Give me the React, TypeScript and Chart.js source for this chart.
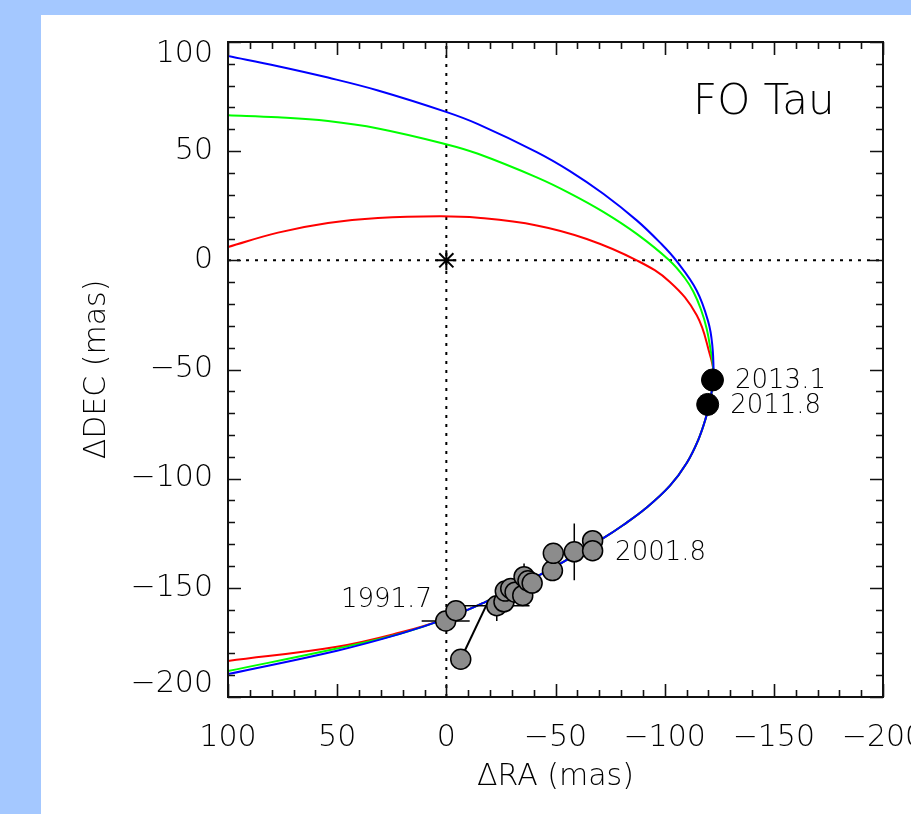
import React, { useEffect, useRef } from 'react';
import { Chart, registerables } from 'chart.js';

Chart.register(...registerables);

// ---- axis ----
const raMin = -200;
const raMax = 100;
const decMin = -200;
const decMax = 100;
const majorStep = 50;
const minorStep = 10;

// ---- orbit fits (ΔRA, ΔDEC in mas), lower-left -> vertex -> upper-left ----
const blueRA = [100, 50.08, 21.22, 0.15, -16.93, -43.05, -71.9, -81.05, -91.77, -102.44, -110.1, -115.4, -118.8, -120.76, -121.95, -122.4, -121.8, -120, -114.7, -105.5, -97.9, -87.2, -71.9, -56.6, -41.4, -14.5, 0.15, 31.3, 54.2, 77.1, 100];
const blueDEC = [-189.5, -178.8, -171.1, -164.1, -156.9, -144.0, -127.2, -121.2, -113.2, -103.2, -92.8, -82.2, -72.4, -64.3, -57.4, -51.1, -38.7, -28.3, -13.9, -0.4, 8.1, 18.3, 30.5, 40.9, 49.6, 62.4, 68.0, 77.8, 83.7, 88.9, 93.6];

const greenRA = [100, 50.08, 21.22, 0.15, -16.93, -43.05, -71.9, -81.05, -91.77, -102.44, -110.1, -115.4, -118.8, -120.76, -121.95, -122.4, -121.0, -119.25, -116.6, -113.1, -109.3, -102.1, -87.2, -71.9, -56.6, -41.4, -14.5, 0.15, 31.3, 54.2, 77.1, 100];
const greenDEC = [-188.1, -177.8, -171.0, -164.1, -156.9, -144.0, -127.2, -121.2, -113.2, -103.2, -92.8, -82.2, -72.4, -64.3, -57.4, -51.1, -40.8, -31.3, -22.4, -14.3, -8.2, 0, 12.1, 22.2, 30.7, 38.0, 48.8, 53.2, 60.4, 63.8, 65.5, 66.4];

const redRA = [100, 50.08, 21.22, 0.15, -16.93, -43.05, -71.9, -81.05, -91.77, -102.44, -110.1, -115.4, -118.8, -120.76, -121.95, -122.4, -120.8, -114.7, -102.4, -87.2, -64.3, -41.4, -14.5, 2.9, 31.3, 54.2, 77.1, 100];
const redDEC = [-183.5, -177.0, -170.5, -164.1, -156.9, -144.0, -127.2, -121.2, -113.2, -103.2, -92.8, -82.2, -72.4, -64.3, -57.4, -51.1, -43.5, -25.2, -9.9, 0, 9.8, 16.0, 19.5, 20.2, 19.4, 17.1, 12.7, 6.1];

// ---- astrometry ----
const grayRA = [0.3, -4.4, -6.6, -23.1, -26.4, -27, -29.5, -31.5, -35, -35.6, -37.4, -39.3, -48.6, -49, -58.6, -67, -67];
const grayDEC = [-165.2, -160.5, -182.7, -158.2, -156.4, -151.5, -150.3, -152, -153.5, -144.9, -146.8, -147.8, -142.1, -134.2, -133.5, -128.4, -133];
const grayErrRA = [11, 0, 0, 15, 0, 0, 0, 0, 0, 0, 0, 0, 0, 0, 0, 0, 0];
const grayErrDEC = [0, 0, 0, 7, 0, 0, 0, 0, 0, 6, 0, 0, 0, 0, 13, 0, 0];

const blackRA = [-121.9, -119.7];
const blackDEC = [-54.8, -66];

// line from the discrepant epoch to the orbit
const connRA = [-6.6, -19.5];
const connDEC = [-182.7, -155.5];

// primary star
const starRA = [0];
const starDEC = [0];

// ---- annotations ----
const annoText = ['1991.7', '2001.8', '2013.1', '2011.8', 'FO Tau'];
const annoRA = [6.6, -77.3, -132.2, -130, -113];
const annoDEC = [-155.6, -134, -55.3, -66.7, 72.1];
const annoAlign: CanvasTextAlign[] = ['right', 'left', 'left', 'left', 'left'];
const annoSize = [26, 26, 26, 26, 42];

const FONT = "'DejaVu Sans', sans-serif";
const WEIGHT = 200;
const INK = '#000000';

const fmt = (v: number) => (v < 0 ? '\u2212' + Math.abs(v) : String(v));

const pts = (xs: number[], ys: number[]) => xs.map((x, i) => ({ x, y: ys[i] }));

function errorBarData() {
  const out: { x: number; y: number | null }[] = [];
  grayRA.forEach((ra, i) => {
    const dec = grayDEC[i];
    const ex = grayErrRA[i];
    const ey = grayErrDEC[i];
    if (ex > 0) {
      out.push({ x: ra + ex, y: dec }, { x: ra - ex, y: dec }, { x: ra, y: null });
    }
    if (ey > 0) {
      out.push({ x: ra, y: dec - ey }, { x: ra, y: dec + ey }, { x: ra, y: null });
    }
  });
  return out;
}

const framePlugin = {
  id: 'frame',
  afterDatasetsDraw(chart: any) {
    const { ctx, chartArea: a, scales } = chart;
    const xs = scales.x;
    const ys = scales.y;
    ctx.save();
    ctx.strokeStyle = '#111111';
    ctx.lineWidth = 2;
    ctx.strokeRect(a.left, a.top, a.right - a.left, a.bottom - a.top);
    ctx.lineWidth = 1.6;
    ctx.beginPath();
    for (let v = raMin; v <= raMax; v += minorStep) {
      const len = v % majorStep === 0 ? 13 : 7;
      const p = Math.round(xs.getPixelForValue(v)) + 0.5;
      ctx.moveTo(p, a.bottom);
      ctx.lineTo(p, a.bottom - len);
      ctx.moveTo(p, a.top);
      ctx.lineTo(p, a.top + len);
    }
    for (let v = decMin; v <= decMax; v += minorStep) {
      const len = v % majorStep === 0 ? 13 : 7;
      const p = Math.round(ys.getPixelForValue(v)) + 0.5;
      ctx.moveTo(a.left, p);
      ctx.lineTo(a.left + len, p);
      ctx.moveTo(a.right, p);
      ctx.lineTo(a.right - len, p);
    }
    ctx.stroke();

    // text annotations
    ctx.fillStyle = INK;
    ctx.textBaseline = 'middle';
    annoText.forEach((t, i) => {
      ctx.font = `${WEIGHT} ${annoSize[i]}px ${FONT}`;
      ctx.textAlign = annoAlign[i];
      ctx.fillText(t, xs.getPixelForValue(annoRA[i]), ys.getPixelForValue(annoDEC[i]));
    });
    ctx.restore();
  },
};

export default function App() {
  const ref = useRef<HTMLCanvasElement | null>(null);

  useEffect(() => {
    if (!ref.current) return;
    const tickFont = { family: FONT, size: 30, weight: WEIGHT };
    const curve = (xs: number[], ys: number[], color: string) => ({
      data: pts(xs, ys),
      showLine: true,
      borderColor: color,
      borderWidth: 2,
      pointRadius: 0,
      tension: 0.4,
    });
    const chart = new Chart(ref.current, {
      type: 'scatter',
      data: {
        datasets: [
          {
            data: pts(blackRA, blackDEC),
            pointRadius: 11,
            pointBackgroundColor: '#000000',
            pointBorderColor: '#000000',
            pointBorderWidth: 1,
            showLine: false,
          },
          {
            data: pts(grayRA, grayDEC),
            pointRadius: 10,
            pointBackgroundColor: '#8c8c8c',
            pointBorderColor: '#000000',
            pointBorderWidth: 1.5,
            showLine: false,
          },
          {
            data: pts(connRA, connDEC),
            showLine: true,
            borderColor: '#000000',
            borderWidth: 2,
            pointRadius: 0,
          },
          {
            data: errorBarData(),
            showLine: true,
            spanGaps: false,
            borderColor: '#000000',
            borderWidth: 1.5,
            pointRadius: 0,
          },
          {
            data: pts(starRA, starDEC),
            pointStyle: 'star',
            pointRadius: 10,
            pointBorderColor: '#000000',
            pointBorderWidth: 2,
            showLine: false,
          },
          curve(blueRA, blueDEC, '#0000ff'),
          curve(greenRA, greenDEC, '#00ff00'),
          curve(redRA, redDEC, '#ff0000'),
          {
            data: [
              { x: 0, y: decMin },
              { x: 0, y: decMax },
            ],
            showLine: true,
            borderColor: '#000000',
            borderWidth: 2,
            borderDash: [3, 6],
            pointRadius: 0,
          },
          {
            data: [
              { x: raMax, y: 0 },
              { x: raMin, y: 0 },
            ],
            showLine: true,
            borderColor: '#000000',
            borderWidth: 2,
            borderDash: [3, 6],
            pointRadius: 0,
          },
        ],
      },
      options: {
        animation: false,
        responsive: false,
        events: [],
        layout: { padding: { left: 0, top: 27, right: 28, bottom: 0 } },
        plugins: { legend: { display: false }, tooltip: { enabled: false } },
        scales: {
          x: {
            type: 'linear',
            position: 'bottom',
            min: raMin,
            max: raMax,
            reverse: true,
            grid: { display: false, drawTicks: false },
            border: { display: false },
            ticks: {
              stepSize: majorStep,
              autoSkip: false,
              maxRotation: 0,
              padding: 23,
              color: INK,
              font: tickFont,
              callback: (v: any) => fmt(Number(v)),
            },
            title: {
              display: true,
              text: '\u0394RA (mas)',
              color: INK,
              font: tickFont,
              padding: { top: 0, bottom: 19 },
            },
            afterFit: (s: any) => {
              s.height = 117;
              s.paddingLeft = 0;
              s.paddingRight = 0;
            },
          },
          y: {
            type: 'linear',
            position: 'left',
            min: decMin,
            max: decMax,
            grid: { display: false, drawTicks: false },
            border: { display: false },
            ticks: {
              stepSize: majorStep,
              autoSkip: false,
              padding: 15,
              color: INK,
              font: { family: FONT, size: 30, weight: WEIGHT, lineHeight: 0.42 },
              callback: (v: any) => {
                const n = Number(v);
                if (n === decMax) return ['', '', fmt(n)];
                if (n === decMin) return [fmt(n), '', ''];
                return fmt(n);
              },
            },
            title: {
              display: true,
              text: '\u0394DEC (mas)',
              color: INK,
              font: tickFont,
              padding: { top: 38, bottom: 0 },
            },
            afterFit: (s: any) => {
              s.width = 187;
              s.paddingTop = 0;
              s.paddingBottom = 0;
            },
          },
        },
      },
      plugins: [framePlugin],
    });
    return () => chart.destroy();
  }, []);

  return (
    <div
      style={{
        position: 'absolute',
        left: 0,
        top: 0,
        width: 911,
        height: 814,
        background: '#a4c8ff',
        overflow: 'hidden',
      }}
    >
      <div
        style={{
          position: 'absolute',
          left: 41,
          top: 15,
          width: 870,
          height: 799,
          background: '#ffffff',
        }}
      >
        <canvas ref={ref} width={870} height={799} style={{ display: 'block' }} />
      </div>
    </div>
  );
}
